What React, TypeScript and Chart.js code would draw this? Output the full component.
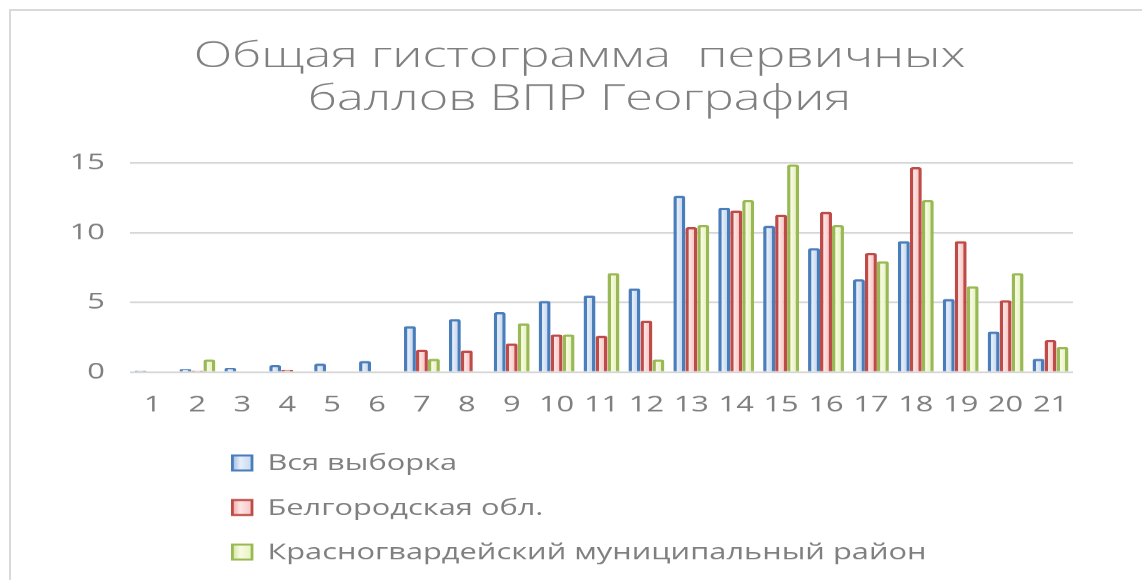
import React, { useEffect, useRef } from 'react';
import { Chart, registerables } from 'chart.js';

Chart.register(...registerables);

// ---- data ----
const categories = ['1', '2', '3', '4', '5', '6', '7', '8', '9', '10', '11', '12', '13', '14', '15', '16', '17', '18', '19', '20', '21'];
const seriesNames = ['Вся выборка', 'Белгородская обл.', 'Красногвардейский муниципальный район'];
const allSample = [0.1, 0.2, 0.3, 0.5, 0.6, 0.8, 3.3, 3.8, 4.3, 5.1, 5.5, 6.0, 12.65, 11.8, 10.5, 8.9, 6.65, 9.4, 5.25, 2.9, 0.95];
const belgorod = [0.05, 0.1, 0.05, 0.15, 0.05, 0.05, 1.6, 1.55, 2.05, 2.7, 2.6, 3.7, 10.4, 11.6, 11.3, 11.5, 8.55, 14.7, 9.4, 5.15, 2.3];
const krasnogvard = [0.05, 0.9, 0.05, 0.05, 0.05, 0, 0.95, 0.05, 3.5, 2.7, 7.1, 0.9, 10.55, 12.35, 14.9, 10.55, 7.95, 12.35, 6.15, 7.1, 1.8];
const yTickValues = [0, 5, 10, 15];
const titleLines = ['Общая гистограмма  первичных', 'баллов ВПР География'];

// ---- styling ----
const STRETCH = 1.4; // the reference is horizontally stretched
const W = 1142;
const H = 580;
const LW = Math.round(W / STRETCH);
const CAT_PCT = 0.8;
const FONT = "'Open Sans', 'DejaVu Sans', sans-serif";
const TEXT = '#7f7f7f';
const TITLE_CENTER = 414;

const palette = [
  { border: '#4a7ebb', stops: ['#9dbbe3', '#e6eefa', '#c8d9f0', '#7499cf'] },
  { border: '#be4b48', stops: ['#eeaaa8', '#fde5e4', '#f8c8c6', '#d47c79'] },
  { border: '#98b954', stops: ['#d3e4a0', '#f8fbe2', '#e8f2c3', '#a8c66a'] },
];

function barFill(ds: number) {
  return (c: any) => {
    const p = palette[ds];
    const chart = c.chart;
    const x = chart && chart.scales ? chart.scales.x : null;
    if (!x || c.type !== 'data') return p.stops[1];
    const center = x.getPixelForValue(c.dataIndex);
    const catW = (x.right - x.left) / categories.length;
    const slot = (catW * CAT_PCT) / 3;
    const left = center - (catW * CAT_PCT) / 2 + ds * slot;
    if (!isFinite(left) || !isFinite(slot) || slot <= 0) return p.stops[1];
    const g = chart.ctx.createLinearGradient(left, 0, left + slot, 0);
    g.addColorStop(0, p.stops[0]);
    g.addColorStop(0.35, p.stops[1]);
    g.addColorStop(0.72, p.stops[2]);
    g.addColorStop(1, p.stops[3]);
    return g;
  };
}

const titleCenterPlugin = {
  id: 'titleCenter',
  afterLayout(chart: any) {
    const t = chart.titleBlock;
    if (t) {
      const half = Math.min(TITLE_CENTER, chart.width - TITLE_CENTER);
      t.left = TITLE_CENTER - half;
      t.right = TITLE_CENTER + half;
    }
  },
};

const legendPlugin = {
  id: 'stackedLegend',
  afterDraw(chart: any) {
    const ctx = chart.ctx;
    const startY = 463;
    const gap = 44.5;
    const boxX = 166;
    const boxW = 14;
    const boxH = 15;
    const textX = 191;
    ctx.save();
    chart.data.datasets.forEach((ds: any, i: number) => {
      const y = startY + i * gap;
      const p = palette[i];
      const g = ctx.createLinearGradient(boxX, 0, boxX + boxW, 0);
      g.addColorStop(0, p.stops[0]);
      g.addColorStop(0.4, p.stops[1]);
      g.addColorStop(1, p.stops[2]);
      ctx.fillStyle = g;
      ctx.fillRect(boxX, y - boxH / 2, boxW, boxH);
      ctx.strokeStyle = p.border;
      ctx.lineWidth = 2;
      ctx.strokeRect(boxX, y - boxH / 2, boxW, boxH);
      ctx.fillStyle = TEXT;
      ctx.font = `22px ${FONT}`;
      ctx.textBaseline = 'middle';
      ctx.textAlign = 'left';
      ctx.fillText(ds.label, textX, y + 1);
    });
    ctx.restore();
  },
};

export default function App() {
  const ref = useRef<HTMLCanvasElement | null>(null);

  useEffect(() => {
    if (!ref.current) return;
    const data = [allSample, belgorod, krasnogvard];
    const chart = new Chart(ref.current, {
      type: 'bar',
      data: {
        labels: categories,
        datasets: data.map((values, i) => ({
          label: seriesNames[i],
          data: values,
          backgroundColor: barFill(i),
          borderColor: palette[i].border,
          borderWidth: 2.5,
          borderRadius: 2,
          categoryPercentage: CAT_PCT,
          barPercentage: 1.0,
        })),
      },
      options: {
        responsive: false,
        animation: false,
        devicePixelRatio: STRETCH,
        layout: { padding: { top: 10, left: 12, right: 49.6, bottom: 141.6 } },
        plugins: {
          legend: { display: false },
          tooltip: { enabled: false },
          title: {
            display: true,
            text: titleLines,
            color: TEXT,
            font: { family: FONT, size: 36, weight: '300', lineHeight: 1.195 },
            padding: { top: 25.5, bottom: 41.5 },
          },
        },
        scales: {
          x: {
            grid: { display: false, drawTicks: false },
            border: { display: false },
            ticks: {
              color: TEXT,
              font: { family: FONT, size: 22 },
              padding: 20,
              maxRotation: 0,
              autoSkip: false,
            },
          },
          y: {
            min: 0,
            max: 15,
            afterFit: (s: any) => {
              s.width = 80.9;
            },
            afterBuildTicks: (s: any) => {
              s.ticks = yTickValues.map((v) => ({ value: v }));
            },
            grid: { color: '#d6d6d6', lineWidth: 1.6, drawTicks: false },
            border: { display: false },
            ticks: {
              color: TEXT,
              font: { family: FONT, size: 22 },
              padding: 18,
            },
          },
        },
      },
      plugins: [titleCenterPlugin, legendPlugin],
    });
    return () => chart.destroy();
  }, []);

  return (
    <div style={{ position: 'fixed', left: 0, top: 0, width: W, height: H, background: '#fff', overflow: 'hidden' }}>
      <canvas ref={ref} width={LW} height={H} style={{ width: `${W}px`, height: `${H}px`, display: 'block' }} />
      <div
        style={{
          position: 'absolute',
          left: 9,
          top: 9,
          width: W,
          height: H,
          border: '2px solid #d9d9d9',
          pointerEvents: 'none',
        }}
      />
    </div>
  );
}
